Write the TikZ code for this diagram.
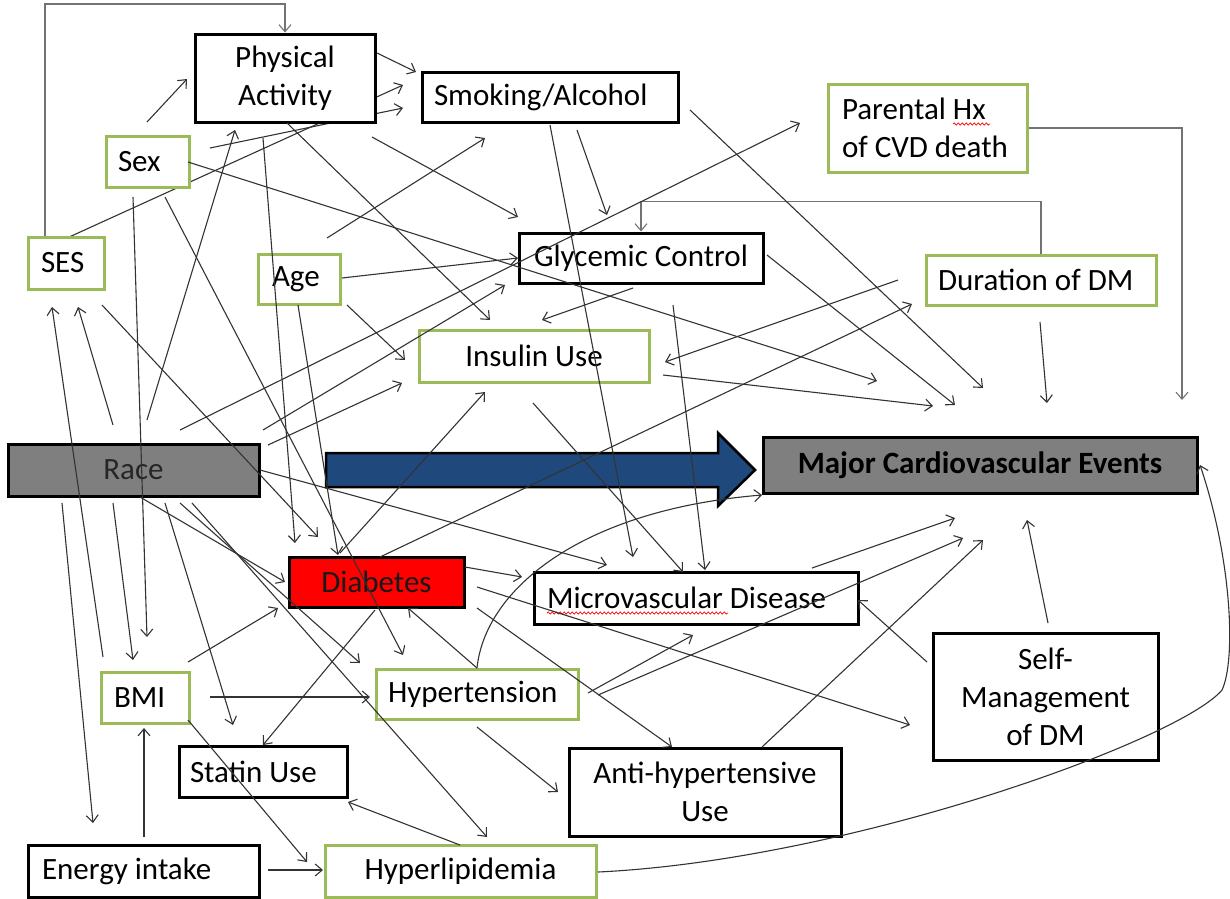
\documentclass[tikz,border=0pt]{standalone}
\usepackage{fontspec}
\setmainfont{Carlito}
\usetikzlibrary{arrows.meta,decorations.pathmorphing}
\definecolor{grn}{RGB}{155,187,89}
\definecolor{gry}{RGB}{127,127,127}
\definecolor{navy}{RGB}{31,73,125}
\newcommand\boxtxt[3]{\makebox[#1pt][l]{\hspace{#2pt}#3}}
\newcommand\ctrtxt[2]{\makebox[#1pt][c]{#2}}
\newcommand\cn[3]{\coordinate (#1-s) at (#2); \coordinate (#1-e) at (#3); \draw[con] (#1-s) -- (#1-e);}
\begin{document}
\begin{tikzpicture}[x=1pt,y=-1pt,
  every node/.style={font=\fontsize{31}{38}\selectfont},
  bx/.style={draw=black, line width=3pt, fill=white, inner xsep=0pt, inner ysep=0pt},
  gbx/.style={bx, draw=grn},
  con/.style={draw=black!80, line width=1.1pt, -{Straight Barb[length=7pt,width=12pt]}},
  elb/.style={con, draw=black!55},
  squig/.style={draw=red, line width=0.7pt, decorate, decoration={snake, amplitude=1.1pt, segment length=4pt}}
]
\useasboundingbox (0,0) rectangle (1230,898);

% lines hidden behind Physical Activity
\cn{a4}{67,238}{403,85}
\cn{a5}{210,148}{403,108}

% nodes
\node[bx, minimum height=88pt, text width=180pt, align=flush center] (pa) at (285,78) {Physical\\Activity};
\node[bx, minimum height=50pt] (sm) at (550,97) {\boxtxt{256}{12}{Smoking/Alcohol}};
\node[gbx, minimum height=88pt, text width=199pt, align=flush left] (pr) at (927.5,128) {\hspace*{14pt}Parental Hx\\\hspace*{14pt}of CVD death};
\node[gbx, minimum height=51pt] (sx) at (147.5,161.5) {\boxtxt{83}{12}{Sex}};
\node[gbx, minimum height=52pt] (ses) at (66,263) {\boxtxt{76}{13}{SES}};
\node[gbx, minimum height=50pt] (age) at (299,279) {\boxtxt{82}{14}{Age}};
\node[bx, minimum height=50pt] (gc) at (641,258) {\ctrtxt{244}{Glycemic Control}};
\node[gbx, minimum height=50pt] (dur) at (1041,280) {\boxtxt{230}{12}{Duration of DM}};
\node[gbx, minimum height=52pt] (ins) at (534,356) {\ctrtxt{230}{Insulin Use}};
\node[bx, fill=gry, minimum height=52pt, text=black!85] (race) at (133.5,470) {\ctrtxt{251}{Race}};
\node[bx, fill=gry, minimum height=56pt] (mce) at (980,465) {\ctrtxt{434}{\bfseries Major Cardiovascular Events}};
\node[bx, fill=red, minimum height=50pt, text=black!90] (dia) at (376.5,582) {\ctrtxt{175}{Diabetes}};
\node[bx, minimum height=52pt] (mic) at (696,598) {\boxtxt{324}{13}{Microvascular Disease}};
\node[bx, minimum height=127pt, text width=225pt, align=flush center] (smd) at (1045.5,696.5) {Self-\\Management\\of DM};
\node[gbx, minimum height=51pt] (bmi) at (145,697.5) {\boxtxt{88}{13}{BMI}};
\node[gbx, minimum height=50pt] (hyp) at (477,694) {\boxtxt{202}{12}{Hypertension}};
\node[bx, minimum height=51pt] (st) at (263,771.5) {\boxtxt{168}{11}{Statin Use}};
\node[bx, minimum height=88pt, text width=272pt, align=flush center] (ah) at (705,792) {Anti-hypertensive\\Use};
\node[bx, minimum height=52pt] (en) at (143.5,871) {\boxtxt{231}{14}{Energy intake}};
\node[gbx, minimum height=52pt] (hl) at (460.5,871) {\ctrtxt{271}{Hyperlipidemia}};

% spell-check underlines
\draw[squig] (953,124) -- (990,124);
\draw[squig] (547,613) -- (728,613);

% big blue arrow
\draw[line width=2.5pt, fill=navy, line join=miter] (326,453) -- (718,453) -- (718,433) -- (755,470) -- (718,506) -- (718,487) -- (326,487) -- cycle;

% elbow connectors
\coordinate (sesup) at ([xshift=18.5pt]ses.north west);
\draw[elb] (sesup) -- (sesup |- 0,4) -| (pa.north);
\draw[elb] (dur.north) -- ++(0,-52) -| (gc.north);
\coordinate (prc) at (1182,128);
\coordinate (pre) at (1182,400);
\draw[elb] (pr.east) -- (prc) -- (pre);

% straight connectors
\cn{a2}{147,122}{187,79}
\cn{a3}{377,53}{416,72}
\cn{a6}{287,123}{490,320}
\cn{a7}{147,420}{235,130}
\cn{a8}{263,138}{295,543}
\cn{a9}{133,197}{147,637}
\cn{a10}{165,197}{403,655}
\cn{a11}{188,162}{877,381}
\cn{a12}{327,238}{485,138}
\cn{a13}{342,278}{518,258}
\cn{a14}{372,137}{518,217}
\cn{a15}{577,130}{607,215}
\cn{a16}{550,125}{633,557}
\cn{a17}{690,110}{983,388}
\cn{a18}{180,430}{800,123}
\cn{a21}{767,255}{955,405}
\cn{a22}{633,288}{542,320}
\cn{a23}{898,280}{665,362}
\cn{a24}{663,375}{933,406}
\cn{a25}{380,557}{912,304}
\cn{a26}{263,430}{505,285}
\cn{a27}{268,445}{402,383}
\cn{a28}{347,305}{405,360}
\cn{a29}{298,305}{338,555}
\cn{a30}{102,305}{318,537}
\cn{a31}{113,425}{78,307}
\cn{a32}{103,657}{52,307}
\cn{a33}{62,503}{93,823}
\cn{a34}{113,503}{133,660}
\cn{a35}{165,503}{233,725}
\cn{a36}{140,497}{285,582}
\cn{a37}{180,503}{360,663}
\cn{a38}{192,503}{487,837}
\cn{a39}{375,610}{263,745}
\cn{a40}{188,662}{278,608}
\cn{a41}{210,697}{370,697}
\cn{a42}{188,720}{307,862}
\cn{a43}{144,837}{144,728}
\cn{a44}{268,870}{323,870}
\cn{a45}{460,845}{348,802}
\cn{a48}{477,668}{408,608}
\cn{a49}{465,567}{522,577}
\cn{a50}{477,587}{910,725}
\cn{a51}{477,608}{672,747}
\cn{a52}{477,727}{558,792}
\cn{a53}{588,693}{693,635}
\cn{a54}{598,695}{963,538}
\cn{a55}{812,568}{955,518}
\cn{a56}{762,747}{983,540}
\cn{a57}{927,662}{858,600}
\cn{a58}{1048,623}{1027,520}
\cn{a59}{1040,322}{1047,403}
\cn{a60}{533,403}{683,572}
\cn{a61}{673,305}{705,570}
\cn{a62}{260,470}{607,565}
\cn{a63}{340,553}{485,392}

% curved connectors
\coordinate (c1s) at (477,668);
\coordinate (c1e) at (762,495);
\draw[con] (c1s) .. controls (485,590) and (580,510) .. (c1e);
\coordinate (c2s) at (598,872);
\coordinate (c2m) at (1222,690);
\coordinate (c2e) at (1200,465);
\draw[con] (c2s) .. controls (850,860) and (1180,740) .. (c2m) .. controls (1236,660) and (1232,560) .. (c2e);
\end{tikzpicture}
\end{document}
